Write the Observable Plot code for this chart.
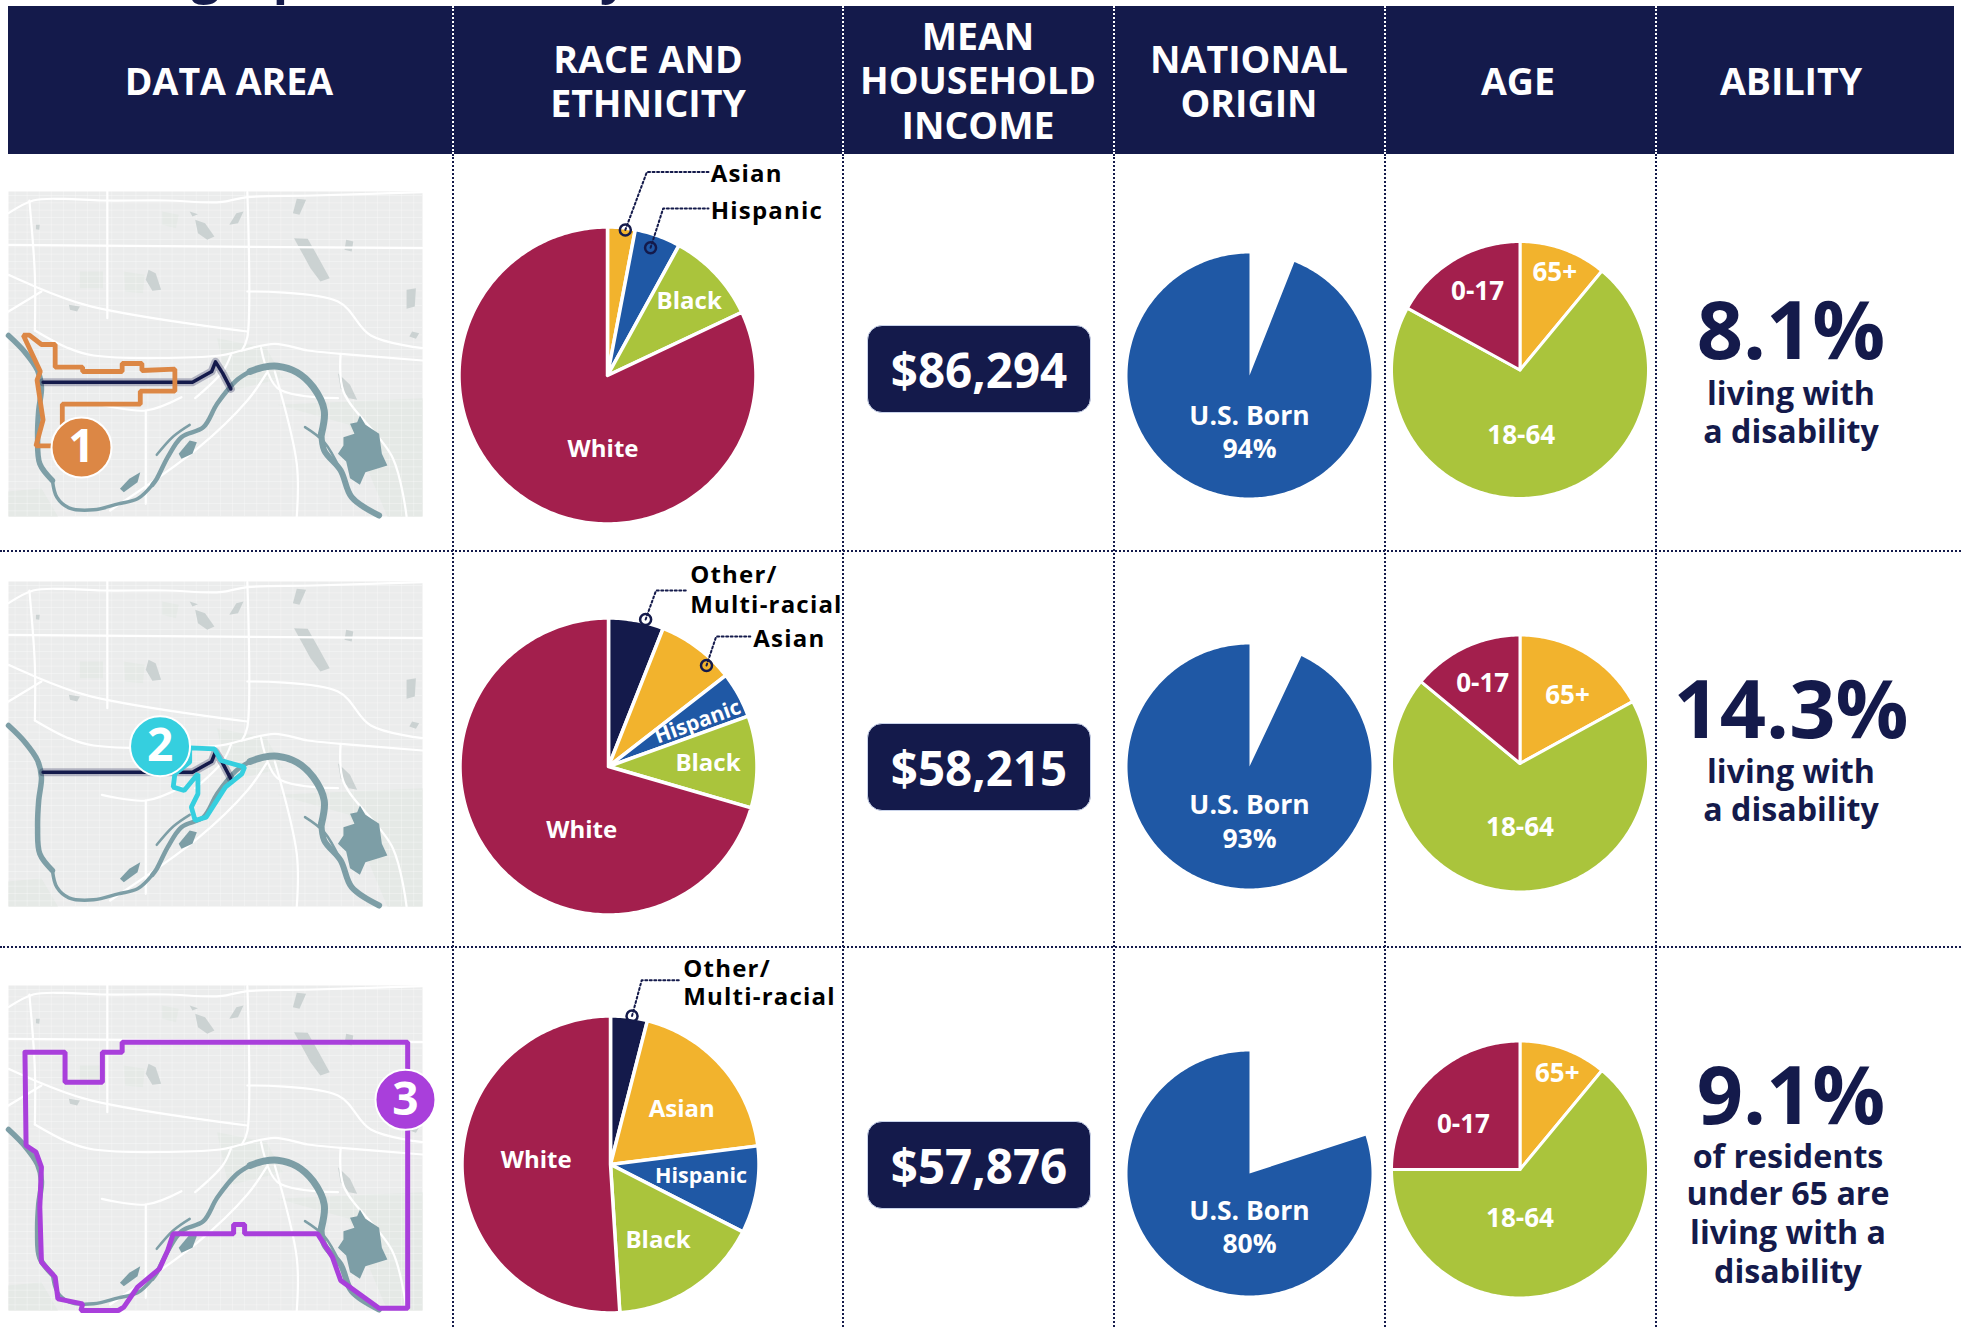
<!DOCTYPE html>
<html><head><meta charset="utf-8">
<script src="https://cdn.jsdelivr.net/npm/d3@7"></script>
<script src="https://cdn.jsdelivr.net/npm/@observablehq/plot@0.6"></script>
<style>
html,body{margin:0;background:#fff;overflow:hidden}
#page{position:relative;width:1961px;height:1327px;overflow:hidden;font-family:"Open Sans",sans-serif;font-weight:700;color:#141a4b}
#page>*{position:absolute}
.hd{color:#fff;font-size:37.5px;line-height:44.5px;text-align:center;transform:translate(-50%,-50%);white-space:nowrap}
.pill{background:#141a4b;color:#fff;border-radius:15px;border:1px solid #c9d3ea;box-sizing:border-box;display:flex;align-items:center;justify-content:center;font-size:47.5px}
.big{font-size:81px;line-height:78px;transform:translate(-50%,-50%);white-space:nowrap}
.sub{font-size:32.2px;line-height:38.5px;text-align:center;transform:translate(-50%,0);white-space:nowrap}
.v{border-left:2px dotted #141a4b;width:0}
.vh{border-left:2px dotted #fff;width:0}
.h{border-top:2px dotted #141a4b;height:0;left:0;width:1961px}
svg{overflow:visible}
g[text-anchor="start"] text{letter-spacing:1.2px}
</style></head><body><div id="page"></div>
<script>
// ---------- values ----------
const headers = ["DATA AREA","RACE AND\nETHNICITY","MEAN\nHOUSEHOLD\nINCOME","NATIONAL\nORIGIN","AGE","ABILITY"];
const raceGroups1 = ["Asian","Hispanic","Black","White"];
const raceValues1 = [3,5,10,82];
const raceGroups2 = ["Other/Multi-racial","Asian","Hispanic","Black","White"];
const raceValues2 = [6,8.5,5,10,70.5];
const raceGroups3 = ["Other/Multi-racial","Asian","Hispanic","Black","White"];
const raceValues3 = [4,19,9.5,16.5,51];
const incomes = ["$86,294","$58,215","$57,876"];
const usBorn = [94,93,80];
const ageGroups = ["65+","18-64","0-17"];
const ageValues1 = [11,72,17];
const ageValues2 = [17,69,14];
const ageValues3 = [11,64,25];
const abilityRates = ["8.1%","14.3%","9.1%"];
const abilityNotes = [["living with","a disability"],["living with","a disability"],["of residents","under 65 are","living with a","disability"]];
const raceColorDomain = ["White","Black","Hispanic","Asian","Other/Multi-racial"];
const raceColorRange = ["#a31f4d","#aac43c","#1f58a5","#f2b32d","#141a4b"];
const ageColorRange = ["#f2b32d","#aac43c","#a31f4d"];

// map features, in map units
const riverLeft = [[0,432],[30,482],[53,537],[60,587],[55,657],[53,737],[57,817],[80,867]];
const riverBottom = [[80,867],[88,917],[110,949],[155,955],[200,937],[235,922],[262,880]];
const riverRise = [[262,880],[270,862],[290,797],[315,737],[355,707],[380,637],[415,567],[440,540]];
const riverApex = [[440,540],[465,527],[490,524],[525,542],[555,587],[575,657],[570,727]];
const riverDrop = [[570,727],[575,777],[605,837],[625,917],[675,972]];
const riverBranch = [[540,707],[575,752],[605,837]];
const riverSide = [[330,700],[300,735],[270,790]];
const lakeBig = [[640,672],[650,700],[675,727],[680,787],[690,822],[650,842],[640,880],[622,860],[615,810],[600,787],[610,762],[610,737],[630,727],[622,697],[635,692]];
const lakeIsland1 = [[330,747],[343,752],[335,787],[315,802],[310,787]];
const lakeIsland2 = [[240,842],[235,872],[210,902],[203,892],[220,862]];
const greyLakes = [
 [[340,85],[358,95],[375,135],[362,145],[345,125]],
 [[520,140],[545,142],[565,200],[585,260],[568,270],[550,230],[535,185]],
 [[255,235],[268,245],[278,295],[262,298],[250,265]],
 [[725,295],[742,290],[740,345],[725,352]],
 [[415,65],[428,60],[418,95],[402,100]],
 [[525,22],[542,25],[530,70],[518,65]],
 [[615,145],[628,150],[625,180],[612,175]],
 [[735,420],[748,425],[742,442],[730,435]],
 [[50,100],[57,100],[56,115],[50,113]],
 [[110,340],[130,345],[125,360],[112,355]],
 [[330,60],[345,68],[335,75]],
 [[600,545],[622,580],[635,625],[620,620],[605,590]]
];
const greenPatches = [
 [[130,240],[172,240],[172,290],[130,290]],
 [[210,240],[248,250],[245,305],[212,300]],
 [[280,60],[310,70],[305,110],[280,100]],
 [[490,640],[754,620],[754,975],[690,975],[620,700]],
 [[0,900],[60,890],[90,975],[0,975]],
 [[380,440],[470,470],[500,560],[400,600]]
];
const roads = [
 [[0,65],[45,27],[100,22],[170,27],[285,27],[385,32],[435,17],[555,12],[754,2]],
 [[38,27],[48,250],[48,417]],
 [[48,417],[105,467],[155,492],[385,492],[425,477],[485,457],[545,477],[605,487],[754,507]],
 [[435,2],[435,437],[425,477]],
 [[250,657],[250,937]],
 [[315,617],[250,657],[170,640]],
 [[185,957],[345,770],[435,627],[470,545]],
 [[485,540],[525,817],[525,975]],
 [[0,250],[140,340],[435,420]],
 [[435,300],[600,330],[660,432],[754,470]],
 [[605,487],[610,600],[700,800],[725,975]],
 [[60,300],[0,360]],
 [[180,0],[180,380]],
 [[0,160],[754,170]],
 [[405,490],[390,540],[340,620]],
 [[460,470],[490,590],[600,620]]
];
const navyRoute = [[63,572],[335,572],[370,540],[377,511],[390,545],[405,592]];
const routeOne = [[98,700],[98,638],[240,638],[240,599],[303,599],[303,533],[243,537],[243,516],[207,516],[207,540],[135,540],[135,527],[85,527],[85,459],[60,459],[38,431],[27,431],[58,540],[52,566],[63,685],[50,763],[80,763]];
const routeTwo = [[330,499],[375,502],[387,537],[430,557],[425,577],[395,617],[360,707],[340,717],[333,677],[345,637],[345,577],[320,627],[300,617],[303,577],[330,542],[330,527],[330,499]];
const routeThree = [[30,200],[103,200],[103,290],[171,290],[171,200],[207,200],[207,170],[727,170],[727,968],[675,968],[605,885],[590,815],[563,745],[430,745],[430,717],[410,717],[410,745],[300,745],[290,795],[275,850],[235,905],[210,965],[200,975],[132,975],[135,955],[90,940],[85,875],[60,830],[57,665],[60,545],[50,500],[32,480],[30,200]];

// ---------- layout ----------
const page = document.getElementById("page");
const navy = "#141a4b";
function add(cls,style,html){const d=document.createElement("div");d.className=cls;Object.assign(d.style,style);if(html!=null)d.innerHTML=html;page.appendChild(d);return d;}
function px(v){return v+"px";}

// clipped title at the top edge
const tclip = add("",{left:"0",top:"0",width:"1961px",height:"6px",overflow:"hidden"});
tclip.innerHTML = '<div style="position:absolute;left:45px;top:-56px;font-size:50px;line-height:60px;white-space:nowrap;color:#141a4b;font-weight:700">Demographic summary</div>';

add("",{left:"8px",top:"6px",width:"1946px",height:"148px",background:navy});
const headerX = [229,648,978,1249,1518,1791];
headers.forEach((h,i)=>add("hd",{left:px(headerX[i]),top:"80.5px"},h.replace(/\n/g,"<br>")));

const colX = [453,843,1114,1385,1656];
colX.forEach(x=>{add("vh",{left:px(x-1),top:"6px",height:"148px"});add("v",{left:px(x-1),top:"154px",height:"1173px"});});
[551,947].forEach(y=>add("h",{top:px(y-1)}));

const rowTop=[155,553,949], rowH=[396,394,378];

function slices(groups,values,start){
  const total=d3.sum(values)/(1-start); let acc=start*total; const pts=[];
  groups.forEach((g,i)=>{
    const a0=acc/total*2*Math.PI; acc+=values[i]; const a1=acc/total*2*Math.PI;
    const n=Math.max(2,Math.ceil((a1-a0)/(Math.PI/180)));
    pts.push({g,x:0,y:0});
    for(let k=0;k<=n;k++){const a=a0+(a1-a0)*k/n;pts.push({g,x:Math.sin(a),y:Math.cos(a)});}
    pts.push({g,x:0,y:0});
  });
  return pts;
}
// one pie = one Plot chart covering its table cell; x,y are in pie radii
function pie(o){
  const {left,top,W,H,cx,cy,r}=o;
  const marks=[Plot.line(slices(o.groups,o.values,o.start||0),{x:"x",y:"y",z:"g",fill:"g",stroke:"white",strokeWidth:o.sw??3.5,strokeMiterlimit:1})];
  (o.leaders||[]).forEach(l=>{
    const pts=l.map(([x,y])=>({x,y}));
    marks.push(Plot.line(pts,{x:"x",y:"y",stroke:navy,strokeWidth:2,strokeDasharray:"2 2.5"}));
    marks.push(Plot.dot(pts.slice(0,1),{x:"x",y:"y",r:5.5,stroke:navy,strokeWidth:2.5,fill:"none"}));
  });
  if(o.labels) marks.push(Plot.text(o.labels,{x:"x",y:"y",text:"t",rotate:d=>d.rot||0,fill:"white",fontSize:d=>d.fs||o.fs||24,fontWeight:700,textAnchor:"middle"}));
  if(o.outer) marks.push(Plot.text(o.outer,{x:"x",y:"y",text:"t",fill:"black",fontSize:24,fontWeight:700,textAnchor:"start",dy:2}));
  const p=Plot.plot({width:W,height:H,margin:0,
    x:{axis:null,domain:[(0-cx)/r,(W-cx)/r],range:[0,W]},
    y:{axis:null,domain:[(cy-H)/r,cy/r],range:[H,0]},
    color:{domain:o.cdom,range:o.crng},
    style:{fontFamily:"'Open Sans',sans-serif",background:"transparent",overflow:"visible"},
    marks});
  p.style.position="absolute";p.style.left=px(left);p.style.top=px(top);
  page.appendChild(p);
}
const raceConfigs=[
 {g:raceGroups1,v:raceValues1,cx:607,cy:375,
  labels:[{t:"Black",x:.55,y:.50},{t:"White",x:-.03,y:-.50}],
  outer:[{t:"Asian",x:.695,y:1.37},{t:"Hispanic",x:.695,y:1.12}],
  leaders:[[[.12,.98],[.265,1.37],[.68,1.37]],[[.29,.86],[.375,1.125],[.68,1.125]]]},
 {g:raceGroups2,v:raceValues2,cx:608,cy:766,
  labels:[{t:"Black",x:.67,y:.02},{t:"White",x:-.18,y:-.43},{t:"Hispanic",x:.60,y:.30,rot:-20,fs:21}],
  outer:[{t:"Other/",x:.55,y:1.30},{t:"Multi-racial",x:.55,y:1.10},{t:"Asian",x:.975,y:.87}],
  leaders:[[[.25,.99],[.32,1.185],[.53,1.185]],[[.66,.68],[.725,.875],[.955,.875]]]},
 {g:raceGroups3,v:raceValues3,cx:610,cy:1164,
  labels:[{t:"Asian",x:.48,y:.37},{t:"Hispanic",x:.61,y:-.08,fs:21.5},{t:"Black",x:.32,y:-.51},{t:"White",x:-.50,y:.03}],
  outer:[{t:"Other/",x:.49,y:1.33},{t:"Multi-racial",x:.49,y:1.14}],
  leaders:[[[.145,1.0],[.21,1.24],[.47,1.24]]]}
];
raceConfigs.forEach((c,i)=>pie({left:455,top:rowTop[i],W:386,H:rowH[i],cx:c.cx-455,cy:c.cy-rowTop[i],r:148.5,
  groups:c.g,values:c.v,cdom:raceColorDomain,crng:raceColorRange,labels:c.labels,outer:c.outer,leaders:c.leaders}));

const natCy=[375,766,1173], natLab=[[-.34,-.61],[-.32,-.595],[-.31,-.58]];
usBorn.forEach((v,i)=>pie({left:1116,top:rowTop[i],W:266,H:rowH[i],cx:1249-1116,cy:natCy[i]-rowTop[i],r:122,
  groups:["U.S. Born"],values:[v],start:1-v/100,sw:0,fs:26.5,cdom:["U.S. Born"],crng:["#1f58a5"],
  labels:[{t:"U.S. Born",x:0,y:natLab[i][0]},{t:v+"%",x:0,y:natLab[i][1]}]}));

const ageCy=[369.5,763,1169];
const ageVals=[ageValues1,ageValues2,ageValues3];
const ageLab=[[[.27,.76],[.01,-.51],[-.33,.61]],[[.37,.53],[0,-.5],[-.29,.62]],[[.29,.745],[0,-.38],[-.44,.35]]];
ageVals.forEach((v,i)=>pie({left:1387,top:rowTop[i],W:267,H:rowH[i],cx:1519.5-1387,cy:ageCy[i]-rowTop[i],r:128.5,sw:3,fs:26,
  groups:ageGroups,values:v,cdom:ageGroups,crng:ageColorRange,
  labels:ageGroups.map((t,k)=>({t,x:ageLab[i][k][0],y:ageLab[i][k][1]}))}));

const pillTop=[325,723,1121];
incomes.forEach((t,i)=>add("pill",{left:"867px",top:px(pillTop[i]),width:"224px",height:"88px"},t));

const bigY=[328,706.5,1093], noteY=[[373.5,411.5],[751.5,789.5],[1136.5,1173.5,1212.5,1251.5]];
const noteX=[1791,1791,1788];
abilityRates.forEach((t,i)=>{
  add("big",{left:"1791px",top:px(bigY[i])},t);
  abilityNotes[i].forEach((n,k)=>add("sub",{left:px(noteX[i]),top:px(noteY[i][k])},n));
});

// ---------- maps ----------
function lines(arr){return arr.flatMap((l,i)=>l.map(([x,y])=>({x,y,i})));}
function pts(arr){return arr.map(([x,y])=>({x,y}));}
const mapTop=[191,581,985];
const extras=[
 {route:routeOne,color:"#dc8745",badge:"1",bx:133,by:768,navy:true},
 {route:routeTwo,color:"#35cfdf",badge:"2",bx:276,by:494,navy:true},
 {route:routeThree,color:"#a93fdb",badge:"3",bx:723,by:343,navy:false}
];
const water="#7d9ea6";
extras.forEach((e,i)=>{
  const marks=[
    Plot.frame({fill:"#ebecec",stroke:null}),
    Plot.line(lines(greenPatches),{x:"x",y:"y",z:"i",fill:"#e5e9e6"}),
    Plot.ruleX(d3.range(12,754,22),{stroke:"white",strokeOpacity:.3,strokeWidth:1}),
    Plot.ruleY(d3.range(12,975,22),{stroke:"white",strokeOpacity:.3,strokeWidth:1}),
    Plot.line(lines(greyLakes),{x:"x",y:"y",z:"i",fill:"#cbd2d2"}),
    Plot.line(lines(roads),{x:"x",y:"y",z:"i",stroke:"white",strokeWidth:2.2,curve:"catmull-rom"}),
    Plot.line(lines([lakeBig,lakeIsland1,lakeIsland2]),{x:"x",y:"y",z:"i",fill:water}),
    Plot.line(pts(riverLeft),{x:"x",y:"y",stroke:water,strokeWidth:5.5,curve:"catmull-rom"}),
    Plot.line(pts(riverBottom),{x:"x",y:"y",stroke:water,strokeWidth:3.5,curve:"catmull-rom"}),
    Plot.line(pts(riverRise),{x:"x",y:"y",stroke:water,strokeWidth:4.5,curve:"catmull-rom"}),
    Plot.line(pts(riverApex),{x:"x",y:"y",stroke:water,strokeWidth:7,curve:"catmull-rom"}),
    Plot.line(pts(riverDrop),{x:"x",y:"y",stroke:water,strokeWidth:6,curve:"catmull-rom"}),
    Plot.line(lines([riverBranch,riverSide]),{x:"x",y:"y",z:"i",stroke:water,strokeWidth:2.5,curve:"catmull-rom"})
  ];
  if(e.navy){
    const nr=pts(navyRoute);
    marks.push(Plot.line(nr,{x:"x",y:"y",stroke:navy,strokeWidth:8,strokeOpacity:.28}));
    marks.push(Plot.line(nr,{x:"x",y:"y",stroke:navy,strokeWidth:3.5}));
  }
  marks.push(Plot.line(pts(e.route),{x:"x",y:"y",stroke:e.color,strokeWidth:i==2?5:4.8,strokeLinejoin:"miter"}));
  marks.push(Plot.dot([{x:e.bx,y:e.by}],{x:"x",y:"y",r:30,fill:e.color,stroke:"white",strokeWidth:2}));
  marks.push(Plot.text([{x:e.bx,y:e.by,t:e.badge}],{x:"x",y:"y",text:"t",fill:"white",fontSize:46,fontWeight:700}));
  const p=Plot.plot({width:414,height:325,margin:0,
    x:{axis:null,domain:[0,754],range:[0,414]},
    y:{axis:null,domain:[0,975],range:[0,325]},
    style:{fontFamily:"'Open Sans',sans-serif",background:"transparent",overflow:"visible"},
    marks});
  p.style.position="absolute";p.style.left="7.5px";p.style.top=px(mapTop[i]);
  page.appendChild(p);
});
</script></body></html>
